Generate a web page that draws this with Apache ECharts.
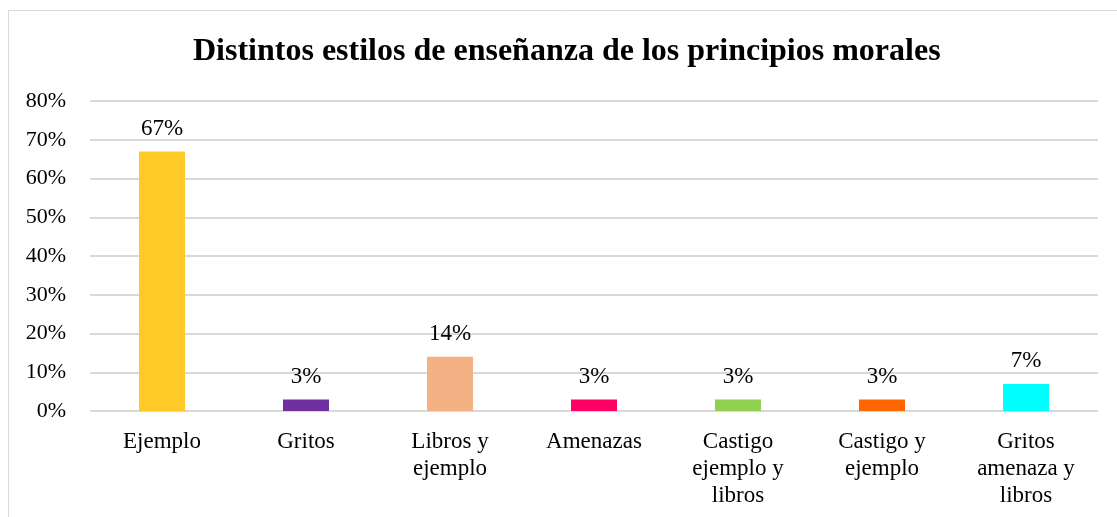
<!DOCTYPE html>
<html>
<head>
    <meta charset="utf-8">
    <title>Distintos estilos de enseñanza</title>
    <script src="https://cdn.jsdelivr.net/npm/echarts@6/dist/echarts.min.js"></script>
    <style>
        html, body { margin: 0; padding: 0; background: #ffffff; }
        #chart { width: 1117px; height: 517px; }
    </style>
</head>
<body>
<div id="chart"></div>
<script>
    // datos
    var categories = ['Ejemplo', 'Gritos', 'Libros y\nejemplo', 'Amenazas', 'Castigo\nejemplo y\nlibros', 'Castigo y\nejemplo', 'Gritos\namenaza y\nlibros'];
    var values = [67, 3, 14, 3, 3, 3, 7];
    var colors = ['#FFCA28', '#7030A0', '#F4B183', '#FF0066', '#92D050', '#FF6600', '#00FFFF'];

    var serif = '"Liberation Serif", "DejaVu Serif", serif';
    var chart = echarts.init(document.getElementById('chart'));

    var option = {
        backgroundColor: '#ffffff',
        animation: false,
        title: {
            text: 'Distintos estilos de enseñanza de los principios morales',
            left: 188,
            top: 31,
            textStyle: {
                fontFamily: serif,
                fontSize: 32,
                fontWeight: 'bold',
                color: '#000000'
            }
        },
        graphic: [{
            type: 'rect',
            shape: { x: 8.5, y: 10.5, width: 1120, height: 520 },
            style: { fill: 'none', stroke: '#d9d9d9', lineWidth: 1 },
            silent: true
        }],
        grid: { left: 90, right: 19, top: 101, bottom: 106 },
        xAxis: {
            type: 'category',
            data: categories,
            axisLine: { show: false },
            axisTick: { show: false },
            axisLabel: {
                fontFamily: serif,
                fontSize: 23,
                color: '#000000',
                lineHeight: 27,
                margin: 17,
                interval: 0
            }
        },
        yAxis: {
            type: 'value',
            min: 0,
            max: 80,
            interval: 10,
            axisLine: { show: false },
            axisTick: { show: false },
            axisLabel: {
                formatter: '{value}%',
                fontFamily: serif,
                fontSize: 22,
                color: '#000000',
                margin: 24
            },
            splitLine: { lineStyle: { color: '#d9d9d9', width: 2 } }
        },
        series: [{
            type: 'bar',
            data: values.map(function (v, i) {
                return { value: v, itemStyle: { color: colors[i] } };
            }),
            barWidth: 46,
            label: {
                show: true,
                position: 'top',
                distance: 11,
                formatter: '{c}%',
                fontFamily: serif,
                fontSize: 23,
                color: '#000000'
            }
        }]
    };
    chart.setOption(option);
</script>
</body>
</html>
